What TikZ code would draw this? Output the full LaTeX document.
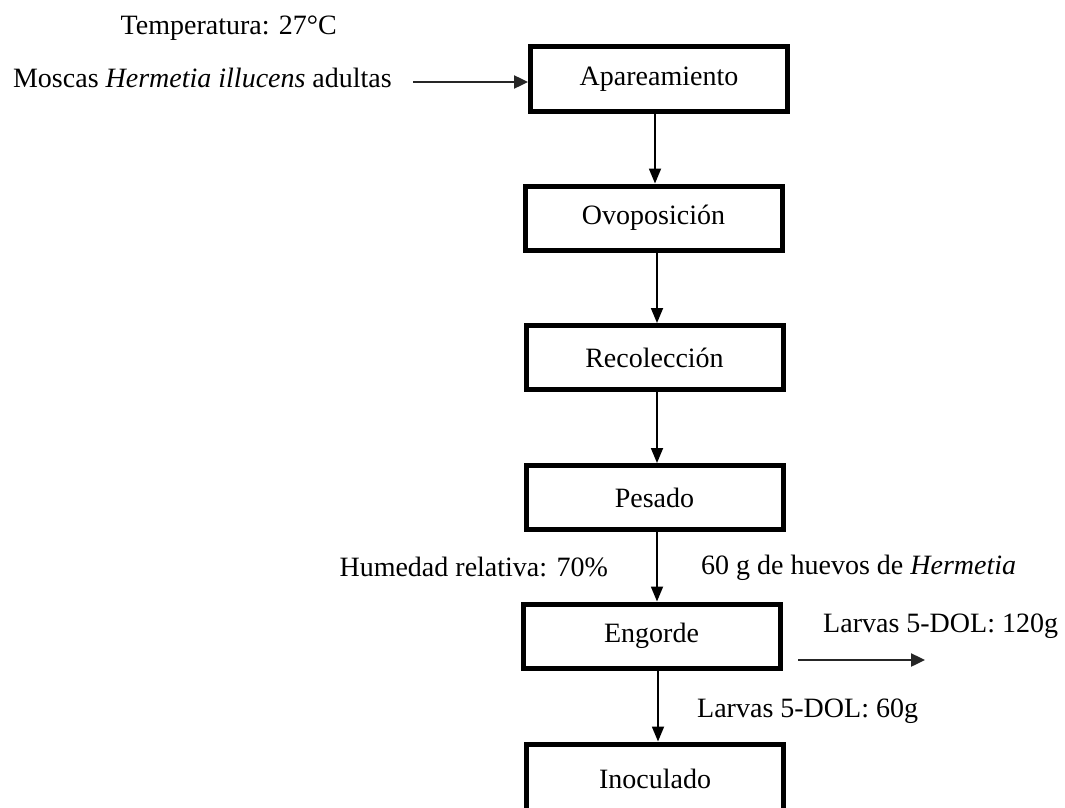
\documentclass[tikz,border=0pt]{standalone}
\usepackage{fontspec}
\setmainfont{Liberation Serif}
\usetikzlibrary{arrows.meta}

\tikzset{
  stepbox/.style={draw, line width=5pt, minimum width=257pt, minimum height=64pt,
                  inner sep=0pt, font=\fontsize{28}{32}\selectfont},
  note/.style={inner sep=0pt, font=\fontsize{28}{32}\selectfont},
  flow/.style={line width=1.8pt, -{Triangle[length=15pt,width=12pt]}},
  side/.style={line width=2.4pt, draw=black!85, -{Triangle[length=14pt,width=13pt]}}
}

\begin{document}
\begin{tikzpicture}[x=1pt, y=-1pt]
  \path[use as bounding box, fill=white] (0,0) rectangle (1065,808);

  % process steps
  \node[stepbox] (apa) at (659,79)    {Apareamiento};
  \node[stepbox] (ovo) at (653.5,218) {Ovoposición};
  \node[stepbox] (rec) at (654.5,357.5) {Recolección};
  \node[stepbox] (pes) at (654.5,497.5) {Pesado};
  \node[stepbox] (eng) at (651.5,636) {Engorde};
  \node[stepbox, minimum height=70pt] (ino) at (655,779) {Inoculado};

  % inputs and conditions
  \node[note, anchor=base east] (temp) at (337,35) {Temperatura: 27°C};
  \node[note, anchor=base east] (mosc) at (392,88) {Moscas \textit{Hermetia illucens} adultas};
  \node[note, anchor=base east] (hum)  at (608,576) {Humedad relativa: 70\%};
  \node[note, anchor=base west] (hue)  at (701,574) {60 g de huevos de \textit{Hermetia}};
  \node[note, anchor=base west] (l120) at (823,632) {Larvas 5-DOL: 120g};
  \node[note, anchor=base west] (l60)  at (697,717) {Larvas 5-DOL: 60g};

  % free ends of the side arrows
  \coordinate (moscEnd) at (413,82);
  \coordinate (outA) at (798,660);
  \coordinate (outB) at (925,660);

  % main flow
  \draw[flow] (apa.south -| 655,0) -- (ovo.north -| 655,0);
  \draw[flow] (ovo.south -| 657,0) -- (rec.north -| 657,0);
  \draw[flow] (rec.south -| 657,0) -- (pes.north -| 657,0);
  \draw[flow] (pes.south -| 657,0) -- (eng.north -| 657,0);
  \draw[flow] (eng.south -| 658,0) -- (ino.north -| 658,0);

  % side arrows
  \draw[side] (moscEnd) -- (apa.west |- moscEnd);
  \draw[side] (outA) -- (outB);
\end{tikzpicture}
\end{document}
